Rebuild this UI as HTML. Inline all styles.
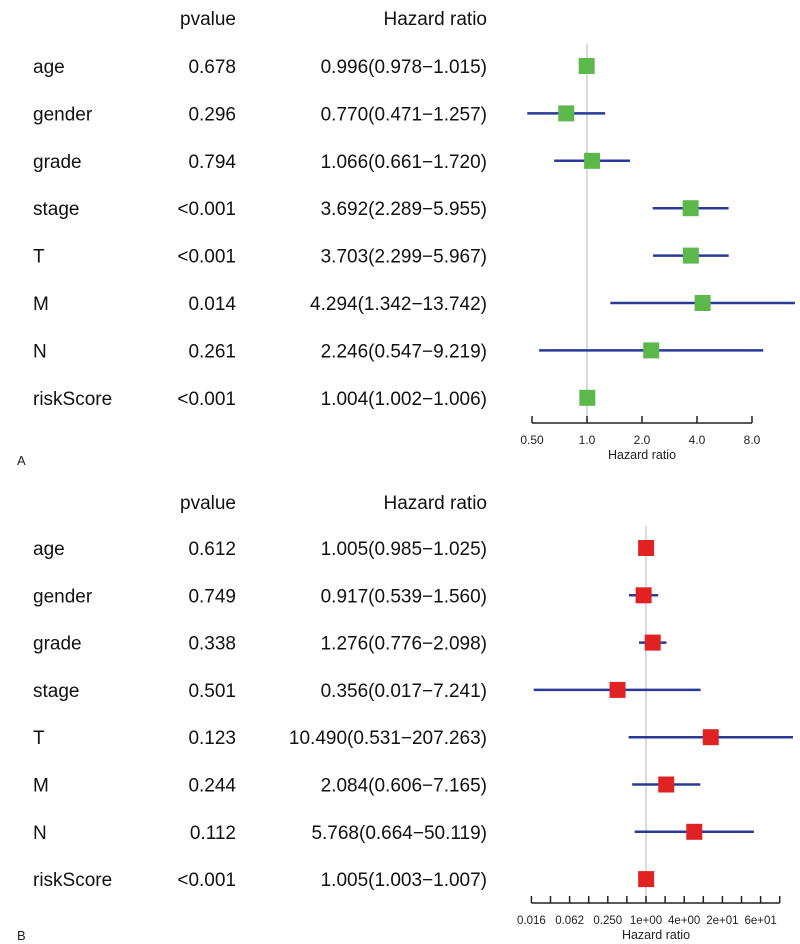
<!DOCTYPE html>
<html><head><meta charset="utf-8">
<style>
html,body{margin:0;padding:0;background:#fff;}
svg{display:block;font-family:"Liberation Sans",Arial,sans-serif;}
</style></head>
<body>
<svg id="chart" width="800" height="944" viewBox="0 0 800 944" xmlns="http://www.w3.org/2000/svg"></svg>
<script>
const variables = ["age","gender","grade","stage","T","M","N","riskScore"];
const pvalA = ["0.678","0.296","0.794","<0.001","<0.001","0.014","0.261","<0.001"];
const hrA = [0.996,0.770,1.066,3.692,3.703,4.294,2.246,1.004];
const lowA = [0.978,0.471,0.661,2.289,2.299,1.342,0.547,1.002];
const highA = [1.015,1.257,1.720,5.955,5.967,13.742,9.219,1.006];
const pvalB = ["0.612","0.749","0.338","0.501","0.123","0.244","0.112","<0.001"];
const hrB = [1.005,0.917,1.276,0.356,10.490,2.084,5.768,1.005];
const lowB = [0.985,0.539,0.776,0.017,0.531,0.606,0.664,1.003];
const highB = [1.025,1.560,2.098,7.241,207.263,7.165,50.119,1.007];
const hrTextA = ["0.996(0.978\u22121.015)","0.770(0.471\u22121.257)","1.066(0.661\u22121.720)","3.692(2.289\u22125.955)","3.703(2.299\u22125.967)","4.294(1.342\u221213.742)","2.246(0.547\u22129.219)","1.004(1.002\u22121.006)"];
const hrTextB = ["1.005(0.985\u22121.025)","0.917(0.539\u22121.560)","1.276(0.776\u22122.098)","0.356(0.017\u22127.241)","10.490(0.531\u2212207.263)","2.084(0.606\u22127.165)","5.768(0.664\u221250.119)","1.005(1.003\u22121.007)"];
const ticksA = [0.5,1,2,4,8];
const tickLabelsA = ["0.50","1.0","2.0","4.0","8.0"];
const ticksB = [1/64,1/32,1/16,1/8,1/4,1/2,1,2,4,8,16,32,64,128];
const tickLabelsB = ["0.016","","0.062","","0.250","","1e+00","","4e+00","","2e+01","","6e+01",""];

const svg = document.getElementById('chart');
const NS = "http://www.w3.org/2000/svg";
function mk(tag, attrs, parent){const e=document.createElementNS(NS,tag);for(const k in attrs)e.setAttribute(k,attrs[k]);(parent||svg).appendChild(e);return e;}

function panel(cfg){
  const g = mk('g',{});
  
  
  const x = v => cfg.x0 + Math.log2(v)*cfg.ppd;
  const y = i => cfg.rowY0 + i*cfg.rowStep;
  let t;
  t = mk('text',{x:236,y:cfg.headY,'text-anchor':'end','font-size':19,fill:'#111'},g); t.textContent='pvalue';
   
  t = mk('text',{x:487,y:cfg.headY,'text-anchor':'end','font-size':19,fill:'#111'},g); t.textContent='Hazard ratio';
   
  const rl = mk('line',{x1:x(1),x2:x(1),y1:cfg.rowY0-22,y2:cfg.axisY,stroke:'#c8d0d8','stroke-width':1.5},g);
   
  variables.forEach((v,i)=>{
    const yy=y(i);
    let a=mk('text',{x:33,y:yy+7,'font-size':19,fill:'#111'},g); a.textContent=v;
     
    a=mk('text',{x:236,y:yy+7,'text-anchor':'end','font-size':19,fill:'#111'},g); a.textContent=cfg.pval[i];
     
    a=mk('text',{x:487,y:yy+7,'text-anchor':'end','font-size':19,fill:'#111'},g); a.textContent=cfg.hrText[i];
     
    const x1=Math.max(x(cfg.low[i]),cfg.clipL), x2=Math.min(x(cfg.high[i]),795);
    const ln=mk('line',{x1:x1,x2:x2,y1:yy,y2:yy,stroke:'#2a3a96','stroke-width':2.5},g);
     
    const sq=mk('rect',{x:x(cfg.hr[i])-8,y:yy-8,width:16,height:16,fill:cfg.color},g);
     
  });
  const ax=mk('line',{x1:x(cfg.ticks[0]),x2:x(cfg.ticks[cfg.ticks.length-1]),y1:cfg.axisY,y2:cfg.axisY,stroke:'#222','stroke-width':1.5},g);
   
  cfg.ticks.forEach((tv,i)=>{
    const tk=mk('line',{x1:x(tv),x2:x(tv),y1:cfg.axisY,y2:cfg.axisY-7,stroke:'#222','stroke-width':1.5},g);
     
    if(cfg.tickLabels[i]){
      const tl=mk('text',{x:x(tv),y:cfg.axisY+21,'text-anchor':'middle','font-size':cfg.tickFont,fill:'#222'},g);
      tl.textContent=cfg.tickLabels[i];
       
    }
  });
  const at=mk('text',{x:cfg.titleX,y:cfg.axisY+36,'text-anchor':'middle','font-size':12.5,fill:'#222'},g);
  at.textContent='Hazard ratio';
   
  const pl=mk('text',{x:17,y:cfg.labelY,'font-size':13,fill:'#222'},g); pl.textContent=cfg.letter;
   
}
panel({name:'panel-a',letter:'A',labelY:465,headY:25,rowY0:66,rowStep:47.4,x0:587,ppd:55,axisY:423,clipL:520,
  pval:pvalA,hr:hrA,low:lowA,high:highA,hrText:hrTextA,ticks:ticksA,tickLabels:tickLabelsA,color:'#5cb84a',tickFont:12,titleX:642});
panel({name:'panel-b',letter:'B',labelY:940,headY:509,rowY0:548,rowStep:47.3,x0:646,ppd:19.1,axisY:903,clipL:520,
  pval:pvalB,hr:hrB,low:lowB,high:highB,hrText:hrTextB,ticks:ticksB,tickLabels:tickLabelsB,color:'#e02222',tickFont:11.5,titleX:656});
</script>
</body></html>
